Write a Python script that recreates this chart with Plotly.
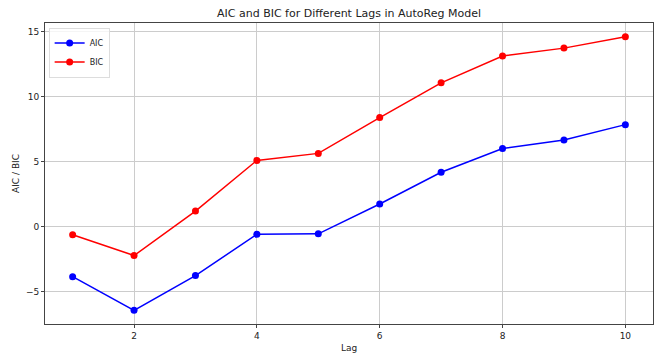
import plotly.graph_objects as go

lags = [1, 2, 3, 4, 5, 6, 7, 8, 9, 10]
aic = [-3.82, -6.41, -3.74, -0.57, -0.53, 1.76, 4.20, 6.03, 6.68, 7.86]
bic = [-0.60, -2.20, 1.22, 5.11, 5.65, 8.40, 11.07, 13.13, 13.74, 14.62]

font = "DejaVu Sans"
fig = go.Figure()
fig.add_trace(go.Scatter(x=lags, y=aic, mode="lines+markers", name="AIC",
                         line=dict(color="blue", width=1.5),
                         marker=dict(color="blue", size=7)))
fig.add_trace(go.Scatter(x=lags, y=bic, mode="lines+markers", name="BIC",
                         line=dict(color="red", width=1.5),
                         marker=dict(color="red", size=7)))

axis_common = dict(showline=True, linecolor="#444", linewidth=1, mirror=True,
                   showgrid=True, gridcolor="#cccccc", gridwidth=1,
                   ticks="outside", ticklen=3, tickcolor="#444", automargin=False,
                   tickfont=dict(family=font, size=9, color="#222"), zeroline=False)

fig.update_layout(
    width=660, height=354,
    margin=dict(l=45, r=7, t=23, b=30),
    paper_bgcolor="white", plot_bgcolor="white",
    title=dict(text="AIC and BIC for Different Lags in AutoReg Model",
               x=(45 + 653) / 2 / 660, xanchor="center", y=1 - 13 / 354, yanchor="middle",
               font=dict(family=font, size=11, color="#222")),
    xaxis=dict(range=[0.55, 10.45], tickvals=[2, 4, 6, 8, 10],
               title=dict(text="Lag", font=dict(family=font, size=9, color="#222"), standoff=4),
               **axis_common),
    yaxis=dict(range=[-7.46, 15.67], tickvals=[-5, 0, 5, 10, 15],
               tickformat="d",
               title=dict(text="AIC / BIC", font=dict(family=font, size=9, color="#222"), standoff=4),
               **axis_common),
    legend=dict(x=0.006, y=0.985, xanchor="left", yanchor="top",
                bgcolor="rgba(255,255,255,0.8)", bordercolor="#dddddd", borderwidth=1,
                font=dict(family=font, size=8, color="#222"), tracegroupgap=0,
                itemwidth=30),
    showlegend=True,
)

fig.write_html("out.html")
